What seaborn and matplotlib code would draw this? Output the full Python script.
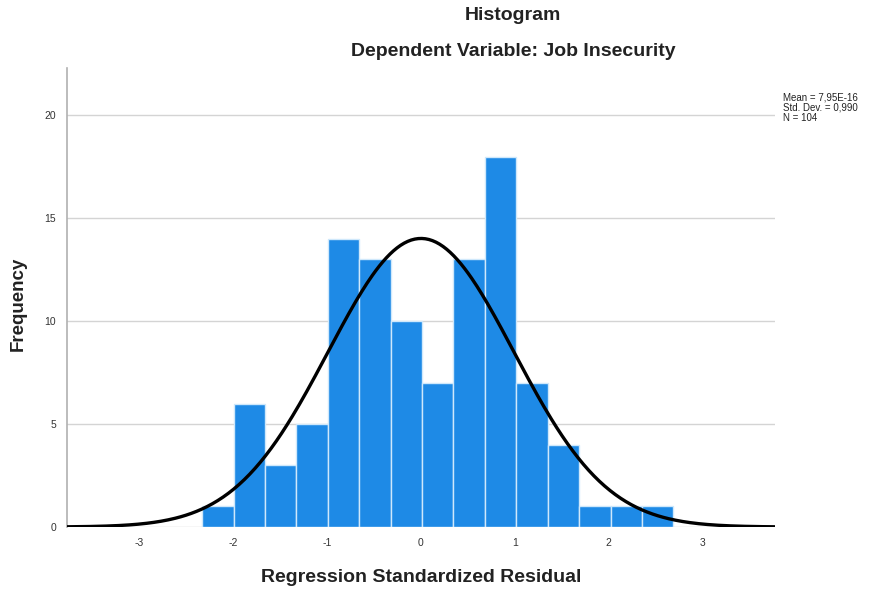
import numpy as np
import pandas as pd
import matplotlib
matplotlib.use("Agg")
import matplotlib.pyplot as plt
import seaborn as sns

# Data
bin_edges = [-2.33 + i * 0.3345 for i in range(16)]
counts = [1, 6, 3, 5, 14, 13, 10, 7, 13, 18, 7, 4, 1, 1, 1]
mean_val = 7.95e-16
std_val = 0.990
n_val = 104
x_ticks = [-3, -2, -1, 0, 1, 2, 3]
y_ticks = [0, 5, 10, 15, 20]

sns.set_style("white")
plt.rcParams['font.family'] = ['Liberation Sans', 'DejaVu Sans']
plt.rcParams['axes.unicode_minus'] = False

centers = [(bin_edges[i] + bin_edges[i + 1]) / 2 for i in range(len(counts))]
df = pd.DataFrame({"resid": centers, "count": counts})

fig = plt.figure(figsize=(8.88, 5.93), dpi=100)
ax = fig.add_axes([67 / 888, 1 - 527 / 593, (775 - 67) / 888, (527 - 68) / 593])

for yv in y_ticks:
    ax.axhline(yv, color="#d4d4d4", lw=1.0, zorder=0)

sns.histplot(data=df, x="resid", weights="count", bins=bin_edges, ax=ax,
             color="#1e8ae6", alpha=1.0, edgecolor="#cfe8fb", linewidth=1.0, zorder=2)

xs = np.linspace(-3.77, 3.77, 400)
bw = bin_edges[1] - bin_edges[0]
ys = n_val * bw * np.exp(-0.5 * ((xs - mean_val) / std_val) ** 2) / (std_val * np.sqrt(2 * np.pi))
sns.lineplot(x=xs, y=ys, ax=ax, color="black", lw=2.4, zorder=3)

ax.set_xlim(-3.77, 3.77)
ax.set_ylim(0, 22.3)
ax.set_xticks(x_ticks)
ax.set_yticks(y_ticks)
ax.set_xticklabels([str(t) for t in x_ticks], fontsize=7.5, color="#333333")
ax.set_yticklabels([str(t) for t in y_ticks], fontsize=7.5, color="#333333")
ax.tick_params(axis="both", length=0, pad=8)
for s in ["top", "right", "bottom"]:
    ax.spines[s].set_visible(False)
ax.spines["left"].set_color("#b0b0b0")
ax.spines["left"].set_linewidth(1.2)

ax.set_xlabel("")
ax.set_ylabel("")
fig.text(421 / 888, 1 - 577 / 593, "Regression Standardized Residual", ha="center", va="center",
         fontsize=14, fontweight="bold", color="#222222")
fig.text(18 / 888, 1 - 304 / 593, "Frequency", ha="center", va="center", rotation=90,
         fontsize=13.5, fontweight="bold", color="#222222")

fig.text(513 / 888, 1 - 16 / 593, "Histogram", ha="center", va="center",
         fontsize=14, fontweight="bold", color="#222222")
fig.text(513 / 888, 1 - 51 / 593, "Dependent Variable: Job Insecurity", ha="center", va="center",
         fontsize=14, fontweight="bold", color="#222222")
fig.text(783 / 888, 1 - 93 / 593,
         "Mean = 7,95E-16\nStd. Dev. = 0,990\nN = 104",
         ha="left", va="top", fontsize=7, linespacing=1.0, color="#222222")

fig.savefig("out.png", dpi=100)
